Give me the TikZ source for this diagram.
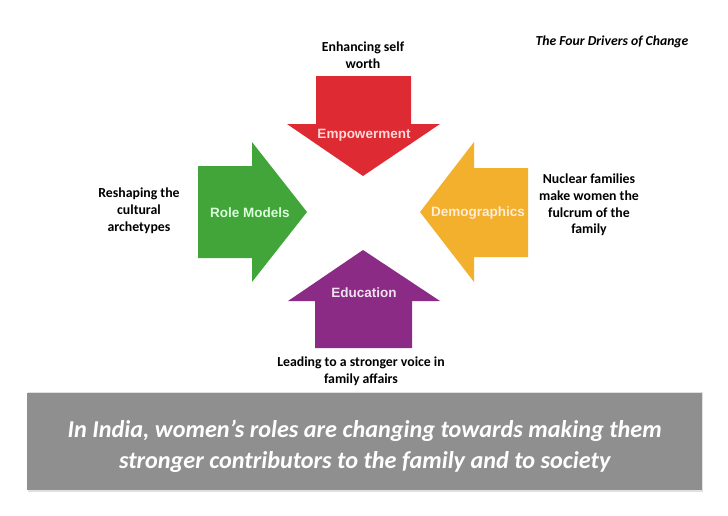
\documentclass[tikz,border=0pt]{standalone}
\usepackage{fontspec}
\setmainfont{Carlito}
\newfontfamily\arrowfont{Liberation Sans}
\definecolor{cRed}{HTML}{DE2A32}
\definecolor{cGreen}{HTML}{41A53A}
\definecolor{cOrange}{HTML}{F3B02C}
\definecolor{cPurple}{HTML}{8C2B85}
\definecolor{cBox}{HTML}{8F8F8F}
\begin{document}
\begin{tikzpicture}[x=1pt,y=-1pt,
  lbl/.style={font=\fontsize{13.8}{16.8}\selectfont\bfseries, align=center, text=black, inner sep=0pt},
  arrlbl/.style={font=\arrowfont\fontsize{13.5}{15}\selectfont\bfseries, inner sep=0pt}]
\useasboundingbox (0,0) rectangle (728,515);
\fill[white] (0,0) rectangle (728,515);
% arrows
\fill[cRed] (316,76) -- (411,76) -- (411,124) -- (440,124) -- (363,176) -- (287,124) -- (316,124) -- cycle;
\fill[cGreen] (198,166) -- (252,166) -- (252,142) -- (307,212) -- (252,282) -- (252,258) -- (198,258) -- cycle;
\fill[cOrange] (528,168) -- (474,168) -- (474,142) -- (420,212) -- (474,282) -- (474,257) -- (528,257) -- cycle;
\fill[cPurple] (363,250) -- (440,301) -- (412,301) -- (412,348) -- (315,348) -- (315,301) -- (288,301) -- cycle;
\node[arrlbl, text=red!15!white] (emp) at (364,135) {Empowerment};
\node[arrlbl, text=green!15!white] (role) at (250,213) {Role Models};
\node[arrlbl, text=orange!15!white] (demo) at (478,213) {Demographics};
\node[arrlbl, text=violet!12!white] (edu) at (364,293) {Education};
% labels
\node[lbl] (l1) at (363,55) {Enhancing self\\worth};
\node[lbl] (l2) at (139,211) {Reshaping the\\cultural\\archetypes};
\node[lbl] (l3) at (589,205) {Nuclear families\\make women the\\fulcrum of the\\family};
\node[lbl] (l4) at (361,371) {Leading to a stronger voice in\\family affairs};
\node[font=\fontsize{13.7}{16}\selectfont\bfseries\itshape, inner sep=0pt] (title) at (612,42) {The Four Drivers of Change};
% bottom box
\fill[black!12] (28,392) rectangle (703,492);
\node[fill=cBox, minimum width=675pt, minimum height=97pt, inner sep=0pt, anchor=north west] (box) at (27,393) {};
\node[font=\fontsize{24.2}{31}\selectfont\bfseries\itshape, text=white, align=center, inner sep=0pt] (msg) at ([yshift=-5pt]box.center) {In India, women’s roles are changing towards making them\\stronger contributors to the family and to society};
\end{tikzpicture}
\end{document}
